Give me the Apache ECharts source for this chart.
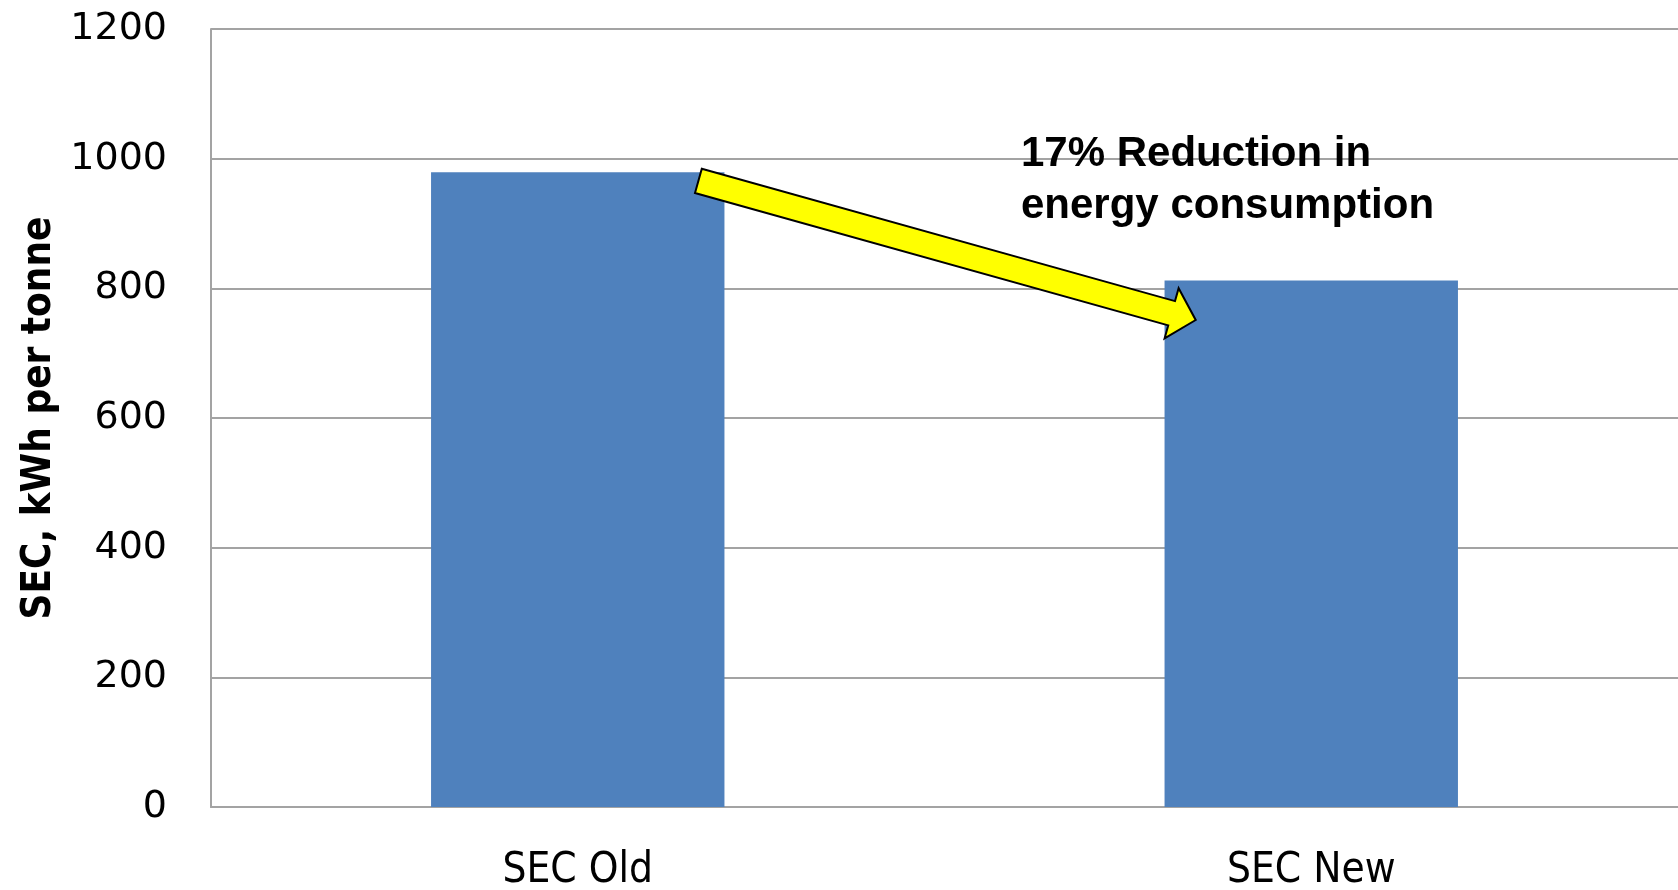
<!DOCTYPE html>
<html>
<head>
<meta charset="utf-8">
<script src="https://cdn.jsdelivr.net/npm/echarts@6/dist/echarts.min.js"></script>
<style>
  html, body { margin: 0; padding: 0; background: #fff; }
  #chart { width: 1678px; height: 890px; }
</style>
</head>
<body>
<div id="chart"></div>
<script>
// chart data
var categories = ['SEC Old', 'SEC New']
var secValues = [979, 812]
var yTicks = [0, 200, 400, 600, 800, 1000, 1200]
var noteLines = ['17% Reduction in', 'energy consumption']

var narrow = "'Liberation Sans Narrow', 'DejaVu Sans Condensed', sans-serif"
var gridGray = '#a3a3a3'

// arrow annotation: tail centre, tip, widths (pixels)
function arrowPoints (tail, tip, shaftHalf, headLen, headHalf) {
  var dx = tip[0] - tail[0]
  var dy = tip[1] - tail[1]
  var len = Math.sqrt(dx * dx + dy * dy)
  var ux = dx / len
  var uy = dy / len
  var nx = -uy
  var ny = ux
  var neck = [tip[0] - ux * headLen, tip[1] - uy * headLen]
  function p (base, w) { return [base[0] + nx * w, base[1] + ny * w] }
  return [p(tail, -shaftHalf), p(neck, -shaftHalf), p(neck, -headHalf), tip,
    p(neck, headHalf), p(neck, shaftHalf), p(tail, shaftHalf)]
}

var chart = echarts.init(document.getElementById('chart'))
var option = {
  animation: false,
  grid: { left: 211, right: 0, top: 29, bottom: 83, containLabel: false, outerBoundsMode: 'none' },
  xAxis: {
    type: 'category',
    data: categories,
    axisLine: { show: true, lineStyle: { color: gridGray, width: 2 } },
    axisTick: { show: false },
    axisLabel: { margin: 43, fontSize: 42, color: '#000', fontFamily: narrow }
  },
  yAxis: {
    type: 'value',
    min: yTicks[0],
    max: yTicks[yTicks.length - 1],
    interval: yTicks[1] - yTicks[0],
    name: 'SEC, kWh per tonne',
    nameLocation: 'middle',
    nameGap: 151,
    nameTextStyle: { fontSize: 40, fontWeight: 'bold', color: '#000', fontFamily: narrow },
    axisLine: { show: true, lineStyle: { color: gridGray, width: 2 } },
    axisTick: { show: false },
    axisLabel: {
      margin: 44,
      fontSize: 38,
      color: '#000',
      fontFamily: "'DejaVu Sans', sans-serif",
      formatter: function (v) { return String(v) }
    },
    splitLine: { show: true, lineStyle: { color: gridGray, width: 2 } }
  },
  series: [{
    type: 'bar',
    data: secValues,
    barWidth: '40%',
    itemStyle: { color: '#4f81bd' }
  }],
  graphic: [
    {
      type: 'polygon',
      z: 100,
      shape: { points: arrowPoints([698.4, 180.9], [1195.7, 320], 12.6, 25, 26) },
      style: { fill: '#ffff00', stroke: '#000', lineWidth: 2 }
    },
    {
      type: 'text',
      z: 100,
      left: 1021,
      top: 128,
      style: {
        text: noteLines.join('\n'),
        font: "bold 42px 'Liberation Sans', Arial, sans-serif",
        lineHeight: 52,
        fill: '#000'
      }
    }
  ]
}
chart.setOption(option)
</script>
</body>
</html>
